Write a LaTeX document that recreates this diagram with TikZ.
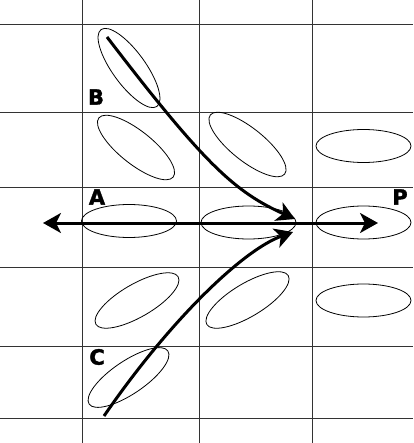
\documentclass[tikz,border=0pt]{standalone}
\usepackage{fontspec}
\newfontfamily\tagfont[FakeBold=1.6]{DejaVu Sans Bold}
\usetikzlibrary{shapes.geometric,arrows.meta}
\begin{document}
\begin{tikzpicture}[x=1pt,y=-1pt,
   >={Stealth[length=18pt,width=20pt,inset=5pt]},
   cell/.style={draw,ellipse,inner sep=0pt,minimum width=95pt,minimum height=33pt,line width=0.8pt},
   tag/.style={font=\fontsize{21}{21}\selectfont\tagfont,inner sep=0pt},
   flow/.style={line width=3pt}]
   \useasboundingbox (0,0) rectangle (413,443);
   \foreach \x in {82,199,312} \draw[line width=0.8pt,black!80] (\x,0) -- (\x,443);
   \foreach \y in {24,112,187,267,346,418} \draw[line width=0.8pt,black!80] (0,\y) -- (413,\y);
   \node[cell,rotate=-54] (eB) at (129,68) {};
   \node[cell,rotate=-38.5] (e21) at (136,147.5) {};
   \node[cell,rotate=-38.5] (e22) at (247.5,144.5) {};
   \node[cell] (e23) at (363.5,146) {};
   \node[cell] (e31) at (129,221) {};
   \node[cell] (e32) at (248.5,222.5) {};
   \node[cell] (e33) at (363.5,222.5) {};
   \node[cell,rotate=30] (e41) at (137,300.5) {};
   \node[cell,rotate=31] (e42) at (247.5,300) {};
   \node[cell] (e43) at (363.5,300.5) {};
   \node[cell,rotate=34] (eC) at (128.5,377.5) {};
   \node[tag] (lblA) at (97,197) {A};
   \node[tag] (lblB) at (96,97) {B};
   \node[tag] (lblC) at (97,357) {C};
   \node[tag] (lblP) at (400,197) {P};
   \coordinate (aend) at (43,223);
   \coordinate (pend) at (378,223);
   \coordinate (bstart) at (107,37);
   \coordinate (btip) at (295,219);
   \coordinate (cstart) at (104,416);
   \coordinate (ctip) at (293,232);
   \draw[flow,<->] (aend) -- (pend);
   \draw[flow,->] (bstart) .. controls (205,165) and (235,192) .. (btip);
   \draw[flow,->] (cstart) .. controls (170,320) and (243,250) .. (ctip);
\end{tikzpicture}
\end{document}
